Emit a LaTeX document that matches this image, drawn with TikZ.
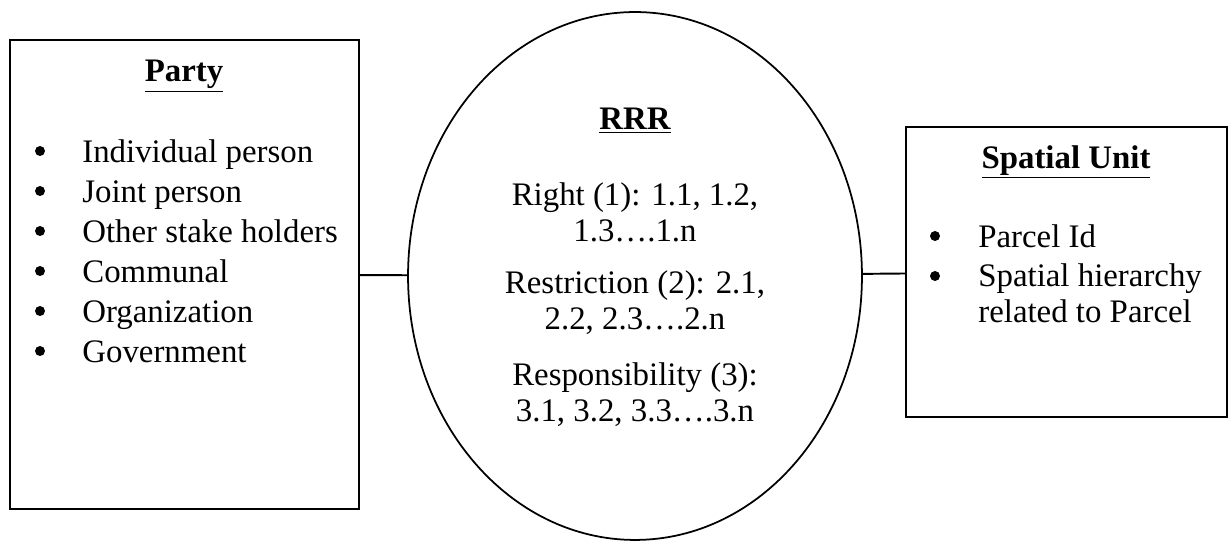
\documentclass[tikz,border=0pt]{standalone}
\usepackage{fontspec}
\setmainfont{Liberation Serif}
\usetikzlibrary{shapes.geometric}

\begin{document}
\begin{tikzpicture}[x=0.02cm,y=-0.02cm,
    box/.style={draw,line width=1.1pt,inner sep=0pt},
    txt/.style={font=\fontsize{18.7}{20.5}\selectfont,inner sep=0pt},
    item/.style={txt,anchor=west,text height=0.7em,text depth=0.22em},
    dot/.style={circle,fill,inner sep=0pt,minimum size=0.2cm},
    title/.style={txt,font=\fontsize{18.7}{20.5}\selectfont\bfseries}]
  \useasboundingbox (0,0) rectangle (1231,546);

  \node[box,minimum width=6.98cm,minimum height=9.38cm] (party) at (184.5,274.5) {};
  \node[box,ellipse,line width=1pt,minimum width=9.08cm,minimum height=10.56cm] (rrr) at (635,276) {};
  \node[box,minimum width=6.42cm,minimum height=5.8cm] (spatial) at (1066.5,272) {};

  \draw[line width=1.1pt] (party) -- (rrr);
  \draw[line width=1.1pt] (rrr) -- (spatial);

  % party
  \node[title] (partytitle) at (184,76) {\underline{Party}};
  \foreach \name [count=\i] in {Individual person,Joint person,Other stake holders,Communal,Organization,Government} {
    \node[dot] (pdot\i) at (40,111+40*\i) {};
    \node[item] (pitem\i) at (82,118+40*\i) {\name};
  }

  % rrr
  \node[title] (rrrtitle) at (635,121) {\underline{RRR}};
  \node[txt,align=center] (right) at (635,212) {Right (1): 1.1, 1.2,\\1.3….1.n};
  \node[txt,align=center] (restriction) at (635,303) {Restriction (2): 2.1,\\2.2, 2.3….2.n};
  \node[txt,align=center] (responsibility) at (635,395) {Responsibility (3):\\3.1, 3.2, 3.3….3.n};

  % spatial unit
  \node[title] (spatialtitle) at (1066,162) {\underline{Spatial Unit}};
  \node[dot] (sdot1) at (935,236) {};
  \node[item] (sitem1) at (978,243) {Parcel Id};
  \node[dot] (sdot2) at (935,276) {};
  \node[txt,anchor=north west,align=left] (sitem2) at (978,263) {Spatial hierarchy\\related to Parcel};
\end{tikzpicture}
\end{document}
